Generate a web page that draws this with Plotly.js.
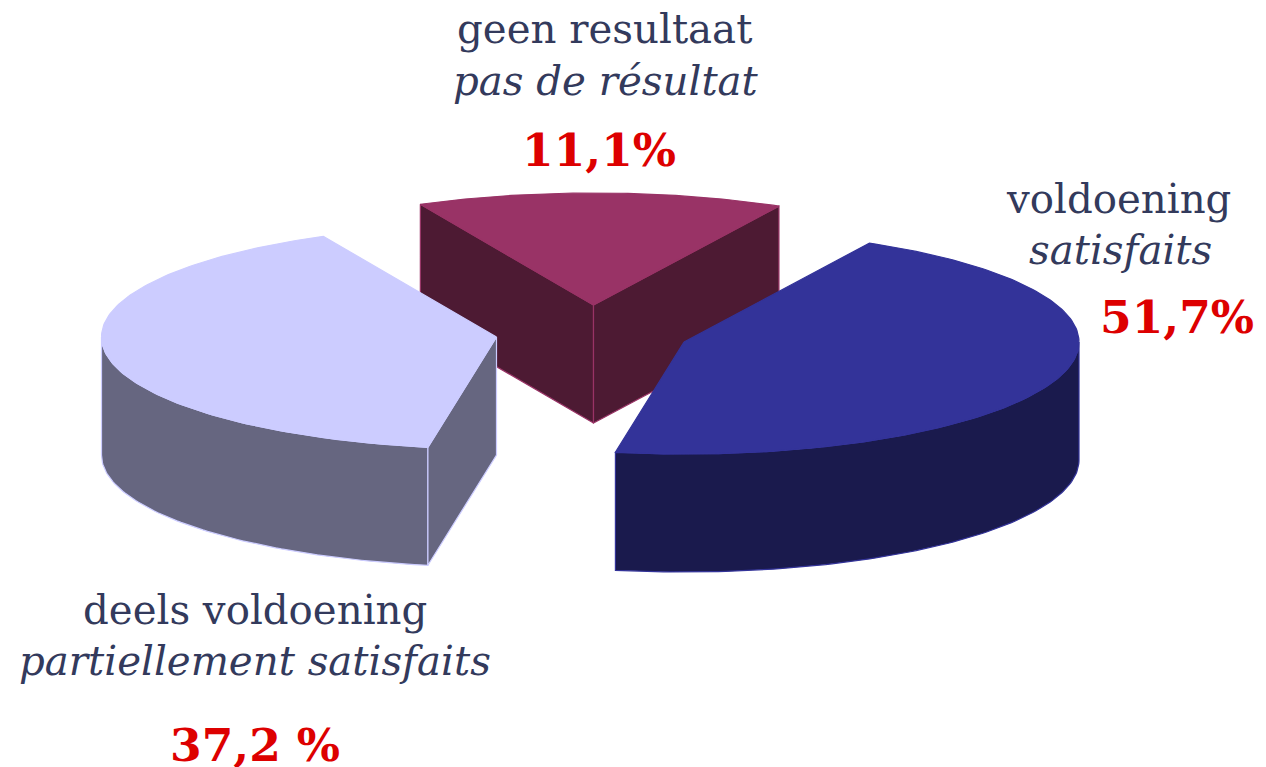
<!DOCTYPE html>
<html>
<head>
<meta charset="utf-8">
<script src="https://cdn.plot.ly/plotly-3.0.1.min.js"></script>
<style>html,body{margin:0;padding:0;background:#fff;overflow:hidden}#chart{width:1266px;height:767px}</style>
</head>
<body>
<div id="chart"></div>
<script>
// Data
var categories = ["voldoening", "deels voldoening", "geen resultaat"];
var categoriesFr = ["satisfaits", "partiellement satisfaits", "pas de résultat"];
var printedValues = ["51,7%", "37,2 %", "11,1%"];
// Share of the circle each slice actually occupies in the drawing (%)
var drawnShares = [45, 40, 15];

// Styles and geometry
var topColors = ["#333399", "#CCCCFF", "#993366"];
var sideColors = ["#1A1A4D", "#666680", "#4D1A33"];
var startAngle = 62;
var apexX = [684, 496.5, 593.5];
var apexY = [342, 337, 305];
var radiusX = 395, radiusY = 112, depth = 118;
var drawOrder = [2, 1, 0];

var nameX = [1118, 255, 604], nameY = [199, 610, 29];
var frX = [1120, 255, 606], frY = [250, 661, 81];
var valX = [1177, 255, 599], valY = [317, 745, 150];

function rim(i, t) {
  var r = t * Math.PI / 180;
  return [apexX[i] + radiusX * Math.cos(r), apexY[i] - radiusY * Math.sin(r)];
}
function poly(pts, fill, line) {
  return {
    type: "scatter", mode: "lines", fill: "toself", fillcolor: fill,
    x: pts.map(function (p) { return p[0]; }),
    y: pts.map(function (p) { return p[1]; }),
    line: { color: line, width: 1.2 }, hoverinfo: "skip", showlegend: false
  };
}
function down(p) { return [p[0], p[1] + depth]; }

var starts = [], ends = [], acc = startAngle;
drawnShares.forEach(function (s) {
  starts.push(acc); acc -= s * 3.6; ends.push(acc);
});

var traces = [];
drawOrder.forEach(function (i) {
  var t0 = starts[i], t1 = ends[i], apex = [apexX[i], apexY[i]];
  var c0 = Math.cos(t0 * Math.PI / 180), c1 = Math.cos(t1 * Math.PI / 180);
  var arc = [], wall = [], t;
  for (t = t0; t >= t1; t -= 1) {
    arc.push(rim(i, t));
    if (Math.sin(t * Math.PI / 180) <= 0) wall.push(rim(i, t));
  }
  arc.push(rim(i, t1));
  if (wall.length) {
    traces.push(poly(wall.concat(wall.slice().reverse().map(down)).concat([wall[0]]), sideColors[i], topColors[i]));
  }
  [[t0, c0 < 0], [t1, c1 > 0]].forEach(function (f) {
    if (!f[1]) return;
    var p = rim(i, f[0]);
    traces.push(poly([apex, p, down(p), down(apex), apex], sideColors[i], topColors[i]));
  });
  traces.push(poly([apex].concat(arc).concat([apex]), topColors[i], topColors[i]));
});

var annotations = [];
function addText(text, x, y, size, color, extra) {
  annotations.push({
    text: extra ? extra[0] + text + extra[1] : text, x: x, y: y, xref: "x", yref: "y",
    xanchor: "center", yanchor: "middle", showarrow: false,
    font: { family: "DejaVu Serif", size: size, color: color }
  });
}
categories.forEach(function (c, i) {
  addText(c, nameX[i], nameY[i], 40.3, "#333A5C");
  addText(categoriesFr[i], frX[i], frY[i], 40.3, "#333A5C", ["<i>", "</i>"]);
  addText(printedValues[i], valX[i], valY[i], 45.5, "#DD0000", ["<b>", "</b>"]);
});

var hiddenAxis = { visible: false, fixedrange: true };
Plotly.newPlot("chart", traces, {
  width: 1266, height: 767,
  margin: { l: 0, r: 0, t: 0, b: 0 },
  paper_bgcolor: "#fff", plot_bgcolor: "#fff",
  showlegend: false,
  xaxis: Object.assign({ range: [0, 1266] }, hiddenAxis),
  yaxis: Object.assign({ range: [767, 0] }, hiddenAxis),
  annotations: annotations
}, { displayModeBar: false, staticPlot: true });
</script>
</body>
</html>
